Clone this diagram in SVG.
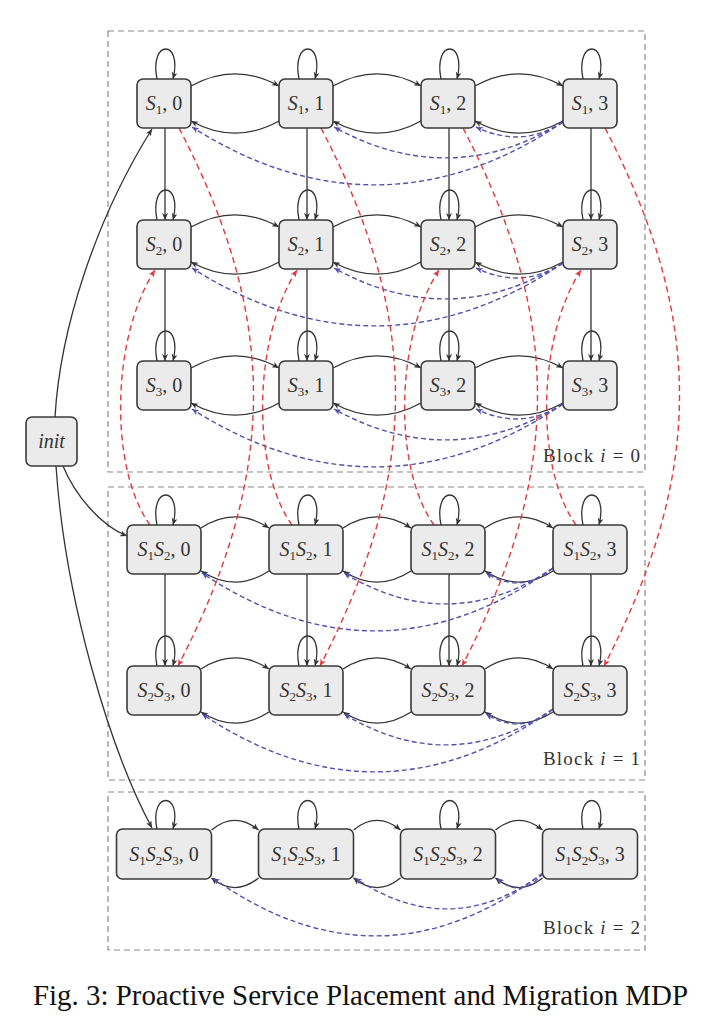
<svg xmlns="http://www.w3.org/2000/svg" width="720" height="1034" viewBox="0 0 720 1034">
<defs>
<style>
.blkbox{fill:none;stroke:#8a8a8a;stroke-width:1.2;stroke-dasharray:6 4}
.node rect{fill:#ebebeb;stroke:#3a3a3a;stroke-width:1.6}
.lbl{font-family:"Liberation Serif",serif;font-size:20px;fill:#333;text-anchor:middle}
.it{font-style:italic}
.sub{font-size:13px}
.blk{font-family:"Liberation Serif",serif;font-size:19px;fill:#333}
.cap{font-family:"Liberation Serif",serif;font-size:29px;fill:#111}
.e{fill:none;stroke:#333;stroke-width:1.3;marker-end:url(#ak)}
.b{fill:none;stroke:#5252ad;stroke-width:1.4;stroke-dasharray:5 3;marker-end:url(#ab)}
.r{fill:none;stroke:#e5383b;stroke-width:1.4;stroke-dasharray:6 4;marker-end:url(#ar)}
</style>
<marker id="ak" markerUnits="userSpaceOnUse" markerWidth="9" markerHeight="8" refX="7" refY="3" orient="auto"><path d="M0,0 L7,3 L0,6 L2,3 z" fill="#333"/></marker>
<marker id="ab" markerUnits="userSpaceOnUse" markerWidth="9" markerHeight="8" refX="7" refY="3" orient="auto"><path d="M0,0 L7,3 L0,6 L2,3 z" fill="#5252ad"/></marker>
<marker id="ar" markerUnits="userSpaceOnUse" markerWidth="9" markerHeight="8" refX="7" refY="3" orient="auto"><path d="M0,0 L7,3 L0,6 L2,3 z" fill="#e5383b"/></marker>
</defs>
<rect width="720" height="1034" fill="#fff"/>

<g id="blocks">
<rect class="blkbox" x="108" y="31" width="537" height="441"/>
<rect class="blkbox" x="108" y="487" width="537" height="293"/>
<rect class="blkbox" x="108" y="792" width="537" height="158"/>
<text class="blk" x="543" y="462" textLength="97" lengthAdjust="spacing">Block <tspan class="it">i</tspan> = 0</text>
<text class="blk" x="543" y="765" textLength="97" lengthAdjust="spacing">Block <tspan class="it">i</tspan> = 1</text>
<text class="blk" x="543" y="934" textLength="97" lengthAdjust="spacing">Block <tspan class="it">i</tspan> = 2</text>
</g>

<g id="connectors">
<!-- self loops -->
<path class="e" d="M157,79 C149,39 183,39 173,79"/>
<path class="e" d="M299,79 C291,39 325,39 315,79"/>
<path class="e" d="M441,79 C433,39 467,39 457,79"/>
<path class="e" d="M583,79 C575,39 609,39 599,79"/>
<path class="e" d="M157,220 C149,180 183,180 173,220"/>
<path class="e" d="M299,220 C291,180 325,180 315,220"/>
<path class="e" d="M441,220 C433,180 467,180 457,220"/>
<path class="e" d="M583,220 C575,180 609,180 599,220"/>
<path class="e" d="M157,361 C149,321 183,321 173,361"/>
<path class="e" d="M299,361 C291,321 325,321 315,361"/>
<path class="e" d="M441,361 C433,321 467,321 457,361"/>
<path class="e" d="M583,361 C575,321 609,321 599,361"/>
<path class="e" d="M157,525 C149,485 183,485 173,525"/>
<path class="e" d="M299,525 C291,485 325,485 315,525"/>
<path class="e" d="M441,525 C433,485 467,485 457,525"/>
<path class="e" d="M583,525 C575,485 609,485 599,525"/>
<path class="e" d="M157,666 C149,626 183,626 173,666"/>
<path class="e" d="M299,666 C291,626 325,626 315,666"/>
<path class="e" d="M441,666 C433,626 467,626 457,666"/>
<path class="e" d="M583,666 C575,626 609,626 599,666"/>
<path class="e" d="M157,829 C149,791 183,791 173,829"/>
<path class="e" d="M299,829 C291,791 325,791 315,829"/>
<path class="e" d="M441,829 C433,791 467,791 457,829"/>
<path class="e" d="M583,829 C575,791 609,791 599,829"/>

<!-- vertical edges -->
<path class="e" d="M165,128 V220"/><path class="e" d="M307,128 V220"/><path class="e" d="M449,128 V220"/><path class="e" d="M591,128 V220"/>
<path class="e" d="M165,269 V361"/><path class="e" d="M307,269 V361"/><path class="e" d="M449,269 V361"/><path class="e" d="M591,269 V361"/>
<path class="e" d="M165,574 V666"/><path class="e" d="M307,574 V666"/><path class="e" d="M449,574 V666"/><path class="e" d="M591,574 V666"/>

<!-- horizontal pairs block 0 -->
<path class="e" d="M191,86 C220,70 250,70 279,86"/><path class="e" d="M279,121 C250,137 220,137 191,121"/>
<path class="e" d="M333,86 C362,70 392,70 421,86"/><path class="e" d="M421,121 C392,137 362,137 333,121"/>
<path class="e" d="M475,86 C504,70 534,70 563,86"/><path class="e" d="M563,121 C534,137 504,137 475,121"/>
<path class="e" d="M191,227 C220,211 250,211 279,227"/><path class="e" d="M279,262 C250,278 220,278 191,262"/>
<path class="e" d="M333,227 C362,211 392,211 421,227"/><path class="e" d="M421,262 C392,278 362,278 333,262"/>
<path class="e" d="M475,227 C504,211 534,211 563,227"/><path class="e" d="M563,262 C534,278 504,278 475,262"/>
<path class="e" d="M191,368 C220,352 250,352 279,368"/><path class="e" d="M279,403 C250,419 220,419 191,403"/>
<path class="e" d="M333,368 C362,352 392,352 421,368"/><path class="e" d="M421,403 C392,419 362,419 333,403"/>
<path class="e" d="M475,368 C504,352 534,352 563,368"/><path class="e" d="M563,403 C534,419 504,419 475,403"/>
<!-- block 1 -->
<path class="e" d="M201,528 C224,513 246,513 269,528"/><path class="e" d="M269,571 C246,586 224,586 201,571"/>
<path class="e" d="M343,528 C366,513 388,513 411,528"/><path class="e" d="M411,571 C388,586 366,586 343,571"/>
<path class="e" d="M485,528 C508,513 530,513 553,528"/><path class="e" d="M553,571 C530,586 508,586 485,571"/>
<path class="e" d="M201,669 C224,654 246,654 269,669"/><path class="e" d="M269,712 C246,727 224,727 201,712"/>
<path class="e" d="M343,669 C366,654 388,654 411,669"/><path class="e" d="M411,712 C388,727 366,727 343,712"/>
<path class="e" d="M485,669 C508,654 530,654 553,669"/><path class="e" d="M553,712 C530,727 508,727 485,712"/>
<!-- block 2 -->
<path class="e" d="M211.5,830 C227.5,817 242.5,817 258.5,830"/><path class="e" d="M258.5,878 C242.5,891 227.5,891 211.5,878"/>
<path class="e" d="M353.5,830 C369.5,817 384.5,817 400.5,830"/><path class="e" d="M400.5,878 C384.5,891 369.5,891 353.5,878"/>
<path class="e" d="M495.5,830 C511.5,817 526.5,817 542.5,830"/><path class="e" d="M542.5,878 C526.5,891 511.5,891 495.5,878"/>

<!-- init edges -->
<path class="e" d="M55,417 C60,330 95,220 152,129"/>
<path class="e" d="M63,466 C75,495 100,525 127,536"/>
<path class="e" d="M56,466 C65,600 110,750 152,828"/>

<!-- blue dashed -->
<path class="b" d="M563,122 C441,205 314,205 192,127"/>
<path class="b" d="M563,122 C487,169 410,169 334,127"/>
<path class="b" d="M563,122 C534,141 505,141 476,127"/>
<path class="b" d="M563,263 C441,346 314,346 192,268"/>
<path class="b" d="M563,263 C487,310 410,310 334,268"/>
<path class="b" d="M563,263 C534,282 505,282 476,268"/>
<path class="b" d="M563,404 C441,487 314,487 192,409"/>
<path class="b" d="M563,404 C487,451 410,451 334,409"/>
<path class="b" d="M563,404 C534,423 505,423 476,409"/>
<path class="b" d="M553,568 C437,651 318,651 202,573"/>
<path class="b" d="M553,568 C484,615 413,615 344,573"/>
<path class="b" d="M553,568 C531,587 508,587 486,573"/>
<path class="b" d="M553,709 C437,792 318,792 202,714"/>
<path class="b" d="M553,709 C484,756 413,756 344,714"/>
<path class="b" d="M553,709 C531,728 508,728 486,714"/>
<path class="b" d="M543,873 C434,956 322,956 213,878"/>
<path class="b" d="M543,873 C481,920 417,920 355,878"/>
<path class="b" d="M543,873 C528,892 512,892 497,878"/>

<!-- red dashed -->
<path class="r" d="M179,128 C279,320 278,473 178,666"/>
<path class="r" d="M321,128 C421,320 420,473 320,666"/>
<path class="r" d="M463,128 C563,320 562,473 462,666"/>
<path class="r" d="M605,128 C705,320 704,473 604,666"/>
<path class="r" d="M150,525 C110,470 110,340 155,270"/>
<path class="r" d="M292,525 C252,470 252,340 297,270"/>
<path class="r" d="M434,525 C394,470 394,340 439,270"/>
<path class="r" d="M576,525 C536,470 536,340 581,270"/>
</g>

<g id="init" class="node"><rect x="26" y="417" width="51" height="49" rx="6"/><text class="lbl it" x="51.5" y="448" font-size="22">init</text></g>

<g id="s1-0" class="node"><rect x="137" y="79" width="54" height="49" rx="6"/><text class="lbl" x="164" y="110"><tspan class="it">S</tspan><tspan class="sub" dy="4">1</tspan><tspan dy="-4">, 0</tspan></text></g>
<g id="s1-1" class="node"><rect x="279" y="79" width="54" height="49" rx="6"/><text class="lbl" x="306" y="110"><tspan class="it">S</tspan><tspan class="sub" dy="4">1</tspan><tspan dy="-4">, 1</tspan></text></g>
<g id="s1-2" class="node"><rect x="421" y="79" width="54" height="49" rx="6"/><text class="lbl" x="448" y="110"><tspan class="it">S</tspan><tspan class="sub" dy="4">1</tspan><tspan dy="-4">, 2</tspan></text></g>
<g id="s1-3" class="node"><rect x="563" y="79" width="54" height="49" rx="6"/><text class="lbl" x="590" y="110"><tspan class="it">S</tspan><tspan class="sub" dy="4">1</tspan><tspan dy="-4">, 3</tspan></text></g>

<g id="s2-0" class="node"><rect x="137" y="220" width="54" height="49" rx="6"/><text class="lbl" x="164" y="251"><tspan class="it">S</tspan><tspan class="sub" dy="4">2</tspan><tspan dy="-4">, 0</tspan></text></g>
<g id="s2-1" class="node"><rect x="279" y="220" width="54" height="49" rx="6"/><text class="lbl" x="306" y="251"><tspan class="it">S</tspan><tspan class="sub" dy="4">2</tspan><tspan dy="-4">, 1</tspan></text></g>
<g id="s2-2" class="node"><rect x="421" y="220" width="54" height="49" rx="6"/><text class="lbl" x="448" y="251"><tspan class="it">S</tspan><tspan class="sub" dy="4">2</tspan><tspan dy="-4">, 2</tspan></text></g>
<g id="s2-3" class="node"><rect x="563" y="220" width="54" height="49" rx="6"/><text class="lbl" x="590" y="251"><tspan class="it">S</tspan><tspan class="sub" dy="4">2</tspan><tspan dy="-4">, 3</tspan></text></g>

<g id="s3-0" class="node"><rect x="137" y="361" width="54" height="49" rx="6"/><text class="lbl" x="164" y="392"><tspan class="it">S</tspan><tspan class="sub" dy="4">3</tspan><tspan dy="-4">, 0</tspan></text></g>
<g id="s3-1" class="node"><rect x="279" y="361" width="54" height="49" rx="6"/><text class="lbl" x="306" y="392"><tspan class="it">S</tspan><tspan class="sub" dy="4">3</tspan><tspan dy="-4">, 1</tspan></text></g>
<g id="s3-2" class="node"><rect x="421" y="361" width="54" height="49" rx="6"/><text class="lbl" x="448" y="392"><tspan class="it">S</tspan><tspan class="sub" dy="4">3</tspan><tspan dy="-4">, 2</tspan></text></g>
<g id="s3-3" class="node"><rect x="563" y="361" width="54" height="49" rx="6"/><text class="lbl" x="590" y="392"><tspan class="it">S</tspan><tspan class="sub" dy="4">3</tspan><tspan dy="-4">, 3</tspan></text></g>

<g id="s1s2-0" class="node"><rect x="127" y="525" width="74" height="49" rx="6"/><text class="lbl" x="164" y="556"><tspan class="it">S</tspan><tspan class="sub" dy="4">1</tspan><tspan class="it" dy="-4">S</tspan><tspan class="sub" dy="4">2</tspan><tspan dy="-4">, 0</tspan></text></g>
<g id="s1s2-1" class="node"><rect x="269" y="525" width="74" height="49" rx="6"/><text class="lbl" x="306" y="556"><tspan class="it">S</tspan><tspan class="sub" dy="4">1</tspan><tspan class="it" dy="-4">S</tspan><tspan class="sub" dy="4">2</tspan><tspan dy="-4">, 1</tspan></text></g>
<g id="s1s2-2" class="node"><rect x="411" y="525" width="74" height="49" rx="6"/><text class="lbl" x="448" y="556"><tspan class="it">S</tspan><tspan class="sub" dy="4">1</tspan><tspan class="it" dy="-4">S</tspan><tspan class="sub" dy="4">2</tspan><tspan dy="-4">, 2</tspan></text></g>
<g id="s1s2-3" class="node"><rect x="553" y="525" width="74" height="49" rx="6"/><text class="lbl" x="590" y="556"><tspan class="it">S</tspan><tspan class="sub" dy="4">1</tspan><tspan class="it" dy="-4">S</tspan><tspan class="sub" dy="4">2</tspan><tspan dy="-4">, 3</tspan></text></g>

<g id="s2s3-0" class="node"><rect x="127" y="666" width="74" height="49" rx="6"/><text class="lbl" x="164" y="697"><tspan class="it">S</tspan><tspan class="sub" dy="4">2</tspan><tspan class="it" dy="-4">S</tspan><tspan class="sub" dy="4">3</tspan><tspan dy="-4">, 0</tspan></text></g>
<g id="s2s3-1" class="node"><rect x="269" y="666" width="74" height="49" rx="6"/><text class="lbl" x="306" y="697"><tspan class="it">S</tspan><tspan class="sub" dy="4">2</tspan><tspan class="it" dy="-4">S</tspan><tspan class="sub" dy="4">3</tspan><tspan dy="-4">, 1</tspan></text></g>
<g id="s2s3-2" class="node"><rect x="411" y="666" width="74" height="49" rx="6"/><text class="lbl" x="448" y="697"><tspan class="it">S</tspan><tspan class="sub" dy="4">2</tspan><tspan class="it" dy="-4">S</tspan><tspan class="sub" dy="4">3</tspan><tspan dy="-4">, 2</tspan></text></g>
<g id="s2s3-3" class="node"><rect x="553" y="666" width="74" height="49" rx="6"/><text class="lbl" x="590" y="697"><tspan class="it">S</tspan><tspan class="sub" dy="4">2</tspan><tspan class="it" dy="-4">S</tspan><tspan class="sub" dy="4">3</tspan><tspan dy="-4">, 3</tspan></text></g>

<g id="s1s2s3-0" class="node"><rect x="116.5" y="829" width="95" height="50" rx="6"/><text class="lbl" x="164" y="861"><tspan class="it">S</tspan><tspan class="sub" dy="4">1</tspan><tspan class="it" dy="-4">S</tspan><tspan class="sub" dy="4">2</tspan><tspan class="it" dy="-4">S</tspan><tspan class="sub" dy="4">3</tspan><tspan dy="-4">, 0</tspan></text></g>
<g id="s1s2s3-1" class="node"><rect x="258.5" y="829" width="95" height="50" rx="6"/><text class="lbl" x="306" y="861"><tspan class="it">S</tspan><tspan class="sub" dy="4">1</tspan><tspan class="it" dy="-4">S</tspan><tspan class="sub" dy="4">2</tspan><tspan class="it" dy="-4">S</tspan><tspan class="sub" dy="4">3</tspan><tspan dy="-4">, 1</tspan></text></g>
<g id="s1s2s3-2" class="node"><rect x="400.5" y="829" width="95" height="50" rx="6"/><text class="lbl" x="448" y="861"><tspan class="it">S</tspan><tspan class="sub" dy="4">1</tspan><tspan class="it" dy="-4">S</tspan><tspan class="sub" dy="4">2</tspan><tspan class="it" dy="-4">S</tspan><tspan class="sub" dy="4">3</tspan><tspan dy="-4">, 2</tspan></text></g>
<g id="s1s2s3-3" class="node"><rect x="542.5" y="829" width="95" height="50" rx="6"/><text class="lbl" x="590" y="861"><tspan class="it">S</tspan><tspan class="sub" dy="4">1</tspan><tspan class="it" dy="-4">S</tspan><tspan class="sub" dy="4">2</tspan><tspan class="it" dy="-4">S</tspan><tspan class="sub" dy="4">3</tspan><tspan dy="-4">, 3</tspan></text></g>

<text class="cap" x="33" y="1005" textLength="655" lengthAdjust="spacingAndGlyphs">Fig. 3: Proactive Service Placement and Migration MDP</text>
</svg>
